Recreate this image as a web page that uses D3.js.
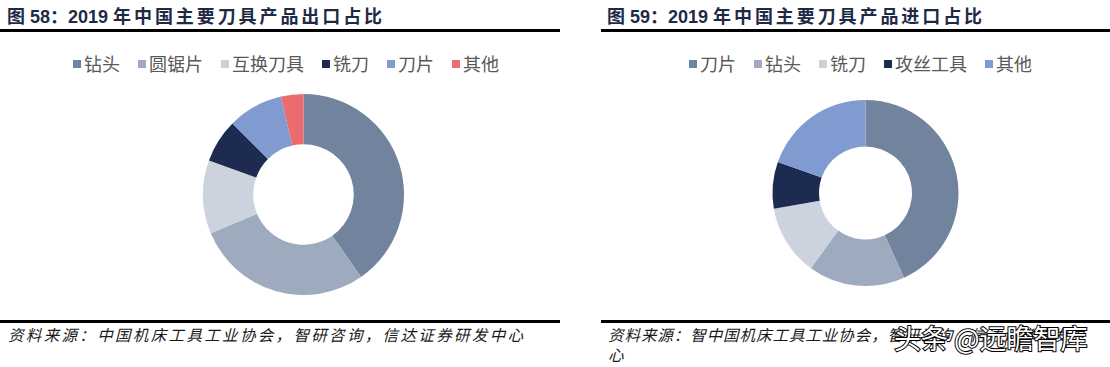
<!DOCTYPE html>
<html>
<head>
<meta charset="utf-8">
<script src="https://cdn.jsdelivr.net/npm/d3@7"></script>
<style>
  body { margin: 0; background: #fff; }
  svg { display: block; }
  .title { font-family: "Liberation Sans", "Noto Sans CJK SC", sans-serif; font-weight: bold; font-size: 18px; fill: #1e2a45; }
  .legend { font-family: "Noto Sans CJK SC", sans-serif; font-size: 18px; fill: #595959; }
  .source { font-family: "Noto Sans CJK SC", sans-serif; font-style: italic; font-size: 15.5px; fill: #1a1a1a; }
</style>
</head>
<body>
<svg id="chart" width="1110" height="367"></svg>
<script>
// export shares (left) and import shares (right), %
const exportNames = ["钻头", "圆锯片", "互换刀具", "铣刀", "刀片", "其他"];
const exportValues = [40.3, 28.4, 11.8, 7.0, 8.9, 3.6];
const importNames = ["刀片", "钻头", "铣刀", "攻丝工具", "其他"];
const importValues = [43.2, 16.8, 12.3, 8.1, 19.6];
const palette = ["#72839e", "#9eaabd", "#ccd3de", "#1c2b4f", "#7f9bd0", "#ea6c70"];

const titlePrefix = ["图 58：2019 ", "图 59：2019 "];
const titleRest = ["年中国主要刀具产品出口占比", "年中国主要刀具产品进口占比"];
const sources = ["资料来源：中国机床工具工业协会，智研咨询，信达证券研发中心",
                 "资料来源：智中国机床工具工业协会，智研咨询，信达证券研发中"];

const svg = d3.select("#chart");

function drawPanel(opt)
{
  let g = svg.append("g");

  // title: latin part plain, chinese part spread out to the reference width
  let title = g.append("text").attr("class", "title")
      .attr("x", opt.x0 + 7).attr("y", 23);
  let pre = title.append("tspan").text(opt.titlePrefix);
  let rest = title.append("tspan").text(opt.titleRest);
  let used = pre.node().getComputedTextLength() + rest.node().getComputedTextLength();
  let n = opt.titleRest.length;
  rest.attr("letter-spacing", Math.max(0, (378 - used) / n));

  g.append("rect").attr("x", opt.lineX0).attr("y", 29)
      .attr("width", opt.lineX1 - opt.lineX0).attr("height", 3).attr("fill", "#000");
  g.append("rect").attr("x", opt.lineX0).attr("y", 320)
      .attr("width", opt.lineX1 - opt.lineX0).attr("height", 3).attr("fill", "#000");

  // source text
  g.append("text").attr("class", "source")
      .attr("x", opt.x0 + 8).attr("y", 341)
      .attr("textLength", opt.srcLen).attr("lengthAdjust", "spacing")
      .text(opt.source);
  if (opt.source2)
    g.append("text").attr("class", "source").attr("x", opt.x0 + 8).attr("y", 361).text(opt.source2);

  // legend, laid out left to right
  let lx = opt.legendX;
  opt.names.forEach((name, i) =>
  {
    g.append("rect").attr("x", lx).attr("y", 60).attr("width", 8).attr("height", 8)
        .attr("fill", palette[i]);
    let t = g.append("text").attr("class", "legend")
        .attr("x", lx + 11).attr("y", 70.5).text(name);
    lx += 11 + t.node().getComputedTextLength() + 18;
  });

  // donut
  let pie = d3.pie().sort(null).value(d => d);
  let arc = d3.arc().innerRadius(opt.r * 0.5).outerRadius(opt.r);
  g.append("g").attr("transform", `translate(${opt.cx},${opt.cy})`)
      .selectAll("path").data(pie(opt.values)).join("path")
      .attr("d", arc)
      .attr("fill", (d, i) => palette[i]);
}

drawPanel({
  x0: 0, lineX0: 0, lineX1: 560, titlePrefix: titlePrefix[0], titleRest: titleRest[0],
  source: sources[0], srcLen: 515,
  names: exportNames, values: exportValues, legendX: 73,
  cx: 303.5, cy: 194.5, r: 100.5
});

drawPanel({
  x0: 600, lineX0: 601, lineX1: 1110, titlePrefix: titlePrefix[1], titleRest: titleRest[1],
  source: sources[1], srcLen: 476, source2: "心",
  names: importNames, values: importValues, legendX: 689,
  cx: 865.5, cy: 193, r: 93
});

// watermark over the right source line
svg.append("text")
    .attr("x", 894).attr("y", 349)
    .attr("font-family", "Noto Sans CJK SC, sans-serif").attr("font-size", 27)
    .attr("fill", "#fff").attr("stroke", "#000").attr("stroke-width", 2)
    .attr("paint-order", "stroke")
    .text("头条 @远瞻智库");
</script>
</body>
</html>
